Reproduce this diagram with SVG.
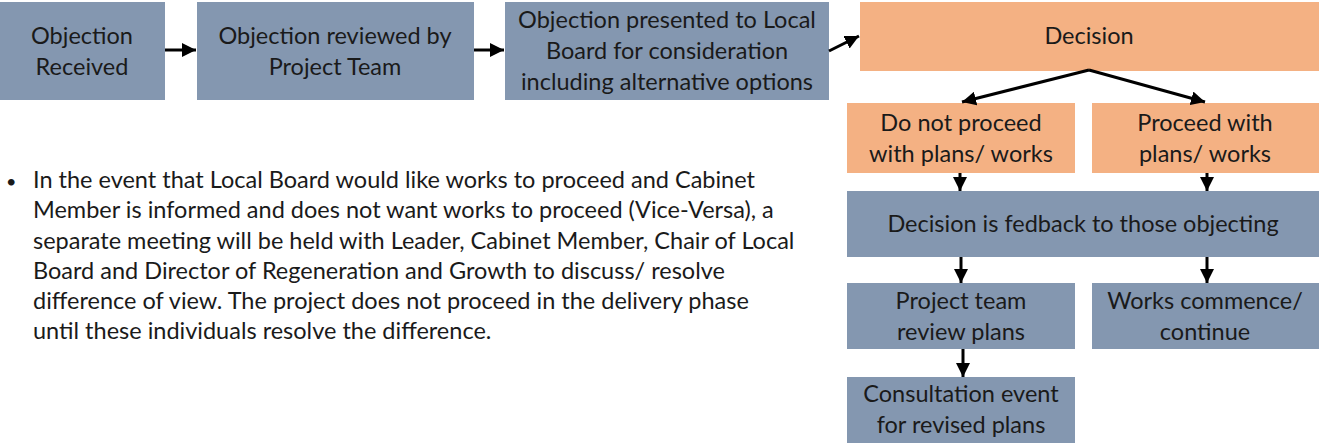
<svg xmlns="http://www.w3.org/2000/svg" width="1319" height="443" viewBox="0 0 1319 443">
<defs>
<marker id="ah" markerUnits="userSpaceOnUse" markerWidth="14" markerHeight="14" refX="12" refY="6" orient="auto" viewBox="0 0 12 12">
<path d="M0,0 L12,6 L0,12 z" fill="#000"/>
</marker>
<style>
.b{fill:#8497B0}
.o{fill:#F4B183}
text{font-family:Lato,"Liberation Sans",sans-serif;fill:#1a1a1a;font-size:23.5px;text-anchor:middle}
.p{font-size:23.5px;text-anchor:start}
.c line{stroke:#000;stroke-width:3;marker-end:url(#ah)}
</style>
</defs>
<rect width="1319" height="443" fill="#fff"/>
<g id="n1"><rect class="b" x="0" y="2" width="165" height="98"/><text x="82" y="44">Objection</text><text x="82" y="75">Received</text></g>
<g id="n2"><rect class="b" x="197" y="2" width="277" height="98"/><text x="335" y="44">Objection reviewed by</text><text x="335" y="75">Project Team</text></g>
<g id="n3"><rect class="b" x="505" y="2" width="324" height="98"/><text x="667" y="28">Objection presented to Local</text><text x="667" y="59">Board for consideration</text><text x="667" y="90">including alternative options</text></g>
<g id="n4"><rect class="o" x="860" y="2" width="459" height="69"/><text x="1089" y="44">Decision</text></g>
<g id="n5"><rect class="o" x="847" y="103" width="228" height="70"/><text x="961" y="131">Do not proceed</text><text x="961" y="162">with plans/ works</text></g>
<g id="n6"><rect class="o" x="1092" y="103" width="227" height="70"/><text x="1205" y="131">Proceed with</text><text x="1205" y="162">plans/ works</text></g>
<g id="n7"><rect class="b" x="847" y="191" width="472" height="66"/><text x="1083" y="232">Decision is fedback to those objecting</text></g>
<g id="n8"><rect class="b" x="847" y="283" width="228" height="66"/><text x="961" y="309">Project team</text><text x="961" y="340">review plans</text></g>
<g id="n9"><rect class="b" x="1092" y="283" width="227" height="66"/><text x="1205" y="309">Works commence/</text><text x="1205" y="340">continue</text></g>
<g id="n10"><rect class="b" x="847" y="377" width="228" height="66"/><text x="961" y="402">Consultation event</text><text x="961" y="433">for revised plans</text></g>
<g id="note">
<text class="p" x="6" y="188" style="font-size:18px">•</text>
<text class="p" x="33" y="188">In the event that Local Board would like works to proceed and Cabinet</text>
<text class="p" x="33" y="218">Member is informed and does not want works to proceed (Vice-Versa), a</text>
<text class="p" x="33" y="249">separate meeting will be held with Leader, Cabinet Member, Chair of Local</text>
<text class="p" x="33" y="279">Board and Director of Regeneration and Growth to discuss/ resolve</text>
<text class="p" x="33" y="309">difference of view. The project does not proceed in the delivery phase</text>
<text class="p" x="33" y="339">until these individuals resolve the difference.</text>
</g>
<g id="connectors" class="c">
<line x1="165" y1="50" x2="196" y2="50"/>
<line x1="474" y1="50" x2="504" y2="50"/>
<line x1="829" y1="51" x2="859" y2="36"/>
<line x1="1089" y1="70" x2="962" y2="102"/>
<line x1="1089" y1="70" x2="1205" y2="102"/>
<line x1="960" y1="173" x2="960" y2="191"/>
<line x1="1207" y1="173" x2="1207" y2="191"/>
<line x1="961" y1="257" x2="961" y2="283"/>
<line x1="1207" y1="257" x2="1207" y2="283"/>
<line x1="963" y1="349" x2="963" y2="377"/>
</g>
</svg>
